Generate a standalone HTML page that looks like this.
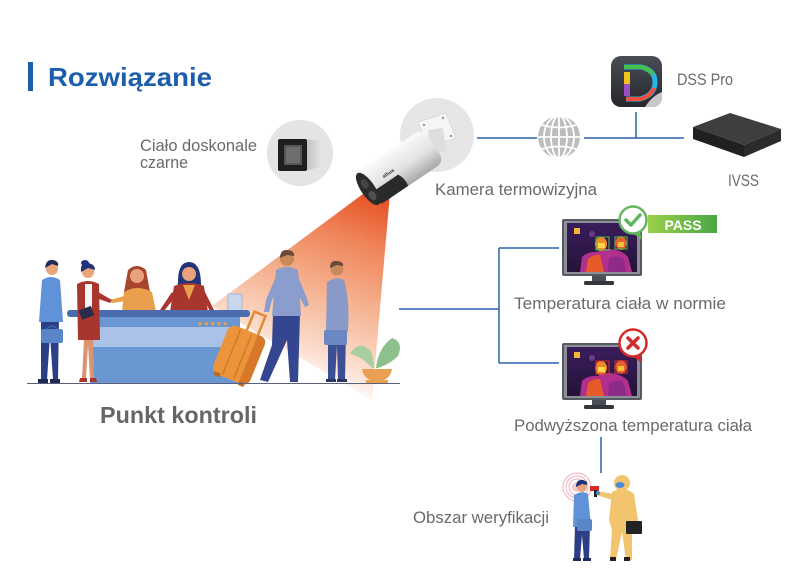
<!DOCTYPE html>
<html><head><meta charset="utf-8"><style>
html,body{margin:0;padding:0;background:#fff;width:800px;height:575px;overflow:hidden}
svg{display:block}
text{font-family:"Liberation Sans",sans-serif}
</style></head><body>
<svg width="800" height="575" viewBox="0 0 800 575" xmlns="http://www.w3.org/2000/svg">
<defs>
<linearGradient id="cone" gradientUnits="userSpaceOnUse" x1="378" y1="188" x2="300" y2="400">
<stop offset="0" stop-color="#e4491d"/>
<stop offset="0.25" stop-color="#ef8458"/>
<stop offset="0.55" stop-color="#f6b898"/>
<stop offset="0.8" stop-color="#fce2d5"/>
<stop offset="1" stop-color="#ffffff" stop-opacity="0"/>
</linearGradient>
<linearGradient id="camb" x1="0" y1="0" x2="0" y2="1">
<stop offset="0" stop-color="#fafafa"/><stop offset="0.55" stop-color="#e2e2e2"/><stop offset="1" stop-color="#a8a8a8"/>
</linearGradient>
<linearGradient id="dss" x1="0" y1="0" x2="0" y2="1">
<stop offset="0" stop-color="#4a4d55"/><stop offset="1" stop-color="#25272c"/>
</linearGradient>
<linearGradient id="pass" x1="0" y1="0" x2="1" y2="0">
<stop offset="0" stop-color="#9bd04a"/><stop offset="1" stop-color="#48a845"/>
</linearGradient>
<linearGradient id="scr" x1="0" y1="0" x2="0" y2="1">
<stop offset="0" stop-color="#3a1d5c"/><stop offset="1" stop-color="#241338"/>
</linearGradient>
<linearGradient id="bbody" x1="0" y1="0" x2="1" y2="0">
<stop offset="0" stop-color="#bdbdbd"/><stop offset="1" stop-color="#e8e8e8"/>
</linearGradient>
<g id="thermal">
<rect x="0" y="0" width="80" height="57" rx="2" fill="#555a60"/>
<rect x="2" y="2" width="76" height="53" fill="#8c9096"/>
<rect x="5" y="4" width="70" height="49" fill="url(#scr)"/>
<rect x="12" y="9" width="6" height="6" fill="#f4b63a"/>
<path d="M18 53 L20 38 Q26 32 36 33 L38 30 L48 30 Q60 31 66 38 L70 53 Z" fill="#b12f8d"/>
<path d="M24 53 L26 40 Q32 35 38 36 L42 53 Z" fill="#e85a2a"/>
<path d="M46 53 L47 40 Q55 35 62 40 L64 53 Z" fill="#8e2a8a"/>
<ellipse cx="39" cy="25" rx="6" ry="7" fill="#f08a2a"/>
<rect x="36" y="24" width="7" height="5" fill="#ffd34a"/>
<ellipse cx="59" cy="24" rx="5.5" ry="7" fill="#e8602e"/>
<rect x="56" y="23" width="6" height="5" fill="#f6c03c"/>
<circle cx="30" cy="15" r="3" fill="#6a3a8a"/>
</g>
<g id="stand">
<rect x="30" y="57" width="14" height="6" fill="#4a4e55"/>
<rect x="22" y="62" width="30" height="4" rx="1.5" fill="#33363c"/>
</g>
</defs>

<!-- Title -->
<rect x="28" y="62" width="5" height="29" fill="#1c5eab"/>
<text x="48" y="86" font-size="26" font-weight="bold" fill="#1c5eab" textLength="164" lengthAdjust="spacingAndGlyphs">Rozwiązanie</text>

<!-- Black body -->
<text x="140" y="151" font-size="17" fill="#6a6a6a" textLength="117" lengthAdjust="spacingAndGlyphs">Ciało doskonale</text>
<text x="140" y="168" font-size="17" fill="#6a6a6a" textLength="48" lengthAdjust="spacingAndGlyphs">czarne</text>
<circle cx="300" cy="153" r="33" fill="#e4e4e4"/>
<path d="M305 139 L323 141 L323 166 L305 171 Z" fill="url(#bbody)"/>
<rect x="278" y="139" width="29" height="32" rx="2" fill="#1e1e1e"/>
<rect x="284" y="145" width="18" height="20" fill="#555"/>
<rect x="286" y="147" width="14" height="16" fill="#6e6e6e"/>

<!-- Camera circle -->
<circle cx="437" cy="135" r="37" fill="#e6e6e6"/>

<!-- Cone -->
<polygon points="371,188 390,193 372,400 212,306" fill="url(#cone)"/>

<!-- Camera -->
<polygon points="418,122 446,113 456,138 428,147" fill="#f5f5f5" stroke="#d6d6d6" stroke-width="0.8"/>
<circle cx="424" cy="125" r="1.2" fill="#999"/><circle cx="443" cy="118" r="1.2" fill="#999"/>
<circle cx="451" cy="136" r="1.2" fill="#999"/><circle cx="431" cy="142" r="1.2" fill="#999"/>
<path d="M428 130 L443 128 L446 150 L430 156 Z" fill="#dedede"/>
<g transform="translate(402,166) rotate(-34)">
<rect x="-42" y="-20" width="80" height="40" rx="9" fill="url(#camb)"/>
<path d="M-42 5 L-8 5 Q-4 12 -6 20 L-34 20 Q-42 20 -42 12 Z" fill="#2a2a2a"/>
<ellipse cx="-41" cy="0" rx="7" ry="19" fill="#2b2b2b"/>
<ellipse cx="-41" cy="-6" rx="3.5" ry="5" fill="#454545"/>
<ellipse cx="-41" cy="8" rx="3.5" ry="5" fill="#505050"/>
<text x="-22" y="0" font-size="5" font-weight="bold" fill="#333">alhua</text>
</g>

<!-- Network -->
<g stroke="#2a62ad" stroke-width="1.5" fill="none">
<line x1="477" y1="138" x2="537" y2="138"/>
<line x1="584" y1="138" x2="684" y2="138"/>
<line x1="636" y1="112" x2="636" y2="138"/>
<line x1="399" y1="309" x2="499" y2="309"/>
<line x1="499" y1="248" x2="499" y2="363"/>
<line x1="499" y1="248" x2="559" y2="248"/>
<line x1="499" y1="363" x2="559" y2="363"/>
<line x1="601" y1="437" x2="601" y2="473"/>
</g>

<!-- Globe -->
<circle cx="559" cy="137" r="21" fill="#bdbdbd"/>
<g stroke="#fff" stroke-width="1.8" fill="none">
<ellipse cx="559" cy="137" rx="8" ry="21"/>
<ellipse cx="559" cy="137" rx="15" ry="21"/>
<line x1="559" y1="116" x2="559" y2="158"/>
<line x1="538" y1="137" x2="580" y2="137"/>
<path d="M542 125 Q559 130 576 125"/>
<path d="M542 149 Q559 144 576 149"/>
</g>

<!-- DSS Pro -->
<rect x="611" y="56" width="51" height="51" rx="10" fill="url(#dss)"/>
<path d="M645 107 Q652 96 662 92 L662 97 Q662 107 652 107 Z" fill="#c8c8c8"/>
<path d="M624 67 L641 67 Q655 70 655 82 Q655 95 640 99 L626 99" fill="none" stroke="#2ab3e6" stroke-width="5"/>
<path d="M626 99 L640 99 Q650 97 654 88" fill="none" stroke="#f0503c" stroke-width="4"/>
<path d="M624 67 L641 67 Q650 69 653 75" fill="none" stroke="#46c04a" stroke-width="4"/>
<rect x="624" y="72" width="6" height="24" fill="#f4c21e"/>
<rect x="624" y="84" width="6" height="12" fill="#9a4ec8"/>
<text x="677" y="85" font-size="17" fill="#6a6a6a" textLength="56" lengthAdjust="spacingAndGlyphs">DSS Pro</text>

<!-- IVSS -->
<polygon points="693,127 730,113 781,129 744,145" fill="#3d3e40"/>
<polygon points="693,127 744,145 744,157 693,139" fill="#1f2022"/>
<polygon points="744,145 781,129 781,141 744,157" fill="#2b2c2e"/>
<text x="728" y="186" font-size="17" fill="#6a6a6a" textLength="31" lengthAdjust="spacingAndGlyphs">IVSS</text>

<text x="435" y="195" font-size="17" fill="#6a6a6a" textLength="162" lengthAdjust="spacingAndGlyphs">Kamera termowizyjna</text>

<!-- Reception scene -->
<!-- receptionist 3 -->
<path d="M128 270 Q137 262 146 270 L150 292 L124 292 Z" fill="#a8452f"/>
<circle cx="137" cy="276" r="7" fill="#eaa27c"/>
<path d="M122 312 L124 292 Q137 284 152 292 L156 312 Z" fill="#e9a04c"/>
<path d="M124 296 L110 300 L112 303 L126 301 Z" fill="#e9a04c"/>
<!-- receptionist 4 -->
<path d="M178 282 Q178 262 189 262 Q201 262 201 285 L206 300 L176 300 Z" fill="#23357a"/>
<circle cx="189" cy="274" r="7" fill="#eaa27c"/>
<path d="M170 312 L174 286 Q189 280 204 286 L208 312 Z" fill="#a9352f"/>
<path d="M183 285 L189 300 L195 285 Z" fill="#e9a04c"/>
<path d="M172 292 L160 310 L164 311 L176 296 Z" fill="#a9352f"/>
<path d="M205 292 L214 310 L210 311 L202 296 Z" fill="#a9352f"/>
<!-- paper -->
<rect x="228" y="294" width="14" height="18" fill="#c8d7ef" stroke="#8aa2cc" stroke-width="0.6"/>
<!-- desk -->
<rect x="90" y="317" width="150" height="10" fill="#6a96d1"/>
<rect x="90" y="327" width="150" height="20" fill="#aac2e8"/>
<rect x="90" y="347" width="150" height="36" fill="#6a96d1"/>
<rect x="67" y="310" width="183" height="7" rx="3" fill="#4b6db0"/>
<g fill="#f0a040" font-size="7"><text x="197" y="326">★★★★★</text></g>
<!-- man 1 -->
<path d="M41 318 L59 318 L58 380 L53 380 L50 335 L47 380 L41 380 Z" fill="#2c3f86"/>
<rect x="38" y="379" width="10" height="4" fill="#1f2a55"/><rect x="50" y="379" width="10" height="4" fill="#1f2a55"/>
<path d="M42 280 Q51 274 60 280 L63 322 L39 322 Z" fill="#5f92d8"/>
<rect x="41" y="329" width="22" height="14" rx="2" fill="#5a85c9"/>
<path d="M47 329 Q52 323 57 329" fill="none" stroke="#3c64a8" stroke-width="1.5"/>
<circle cx="52" cy="269" r="6" fill="#e8a47a"/>
<path d="M45 268 Q46 259 53 260 Q59 261 58 266 L52 264 Z" fill="#1f2d5a"/>
<!-- woman 2 -->
<path d="M84 340 L82 378 L86 378 L88 345 L90 378 L94 378 L93 340 Z" fill="#d99470"/>
<path d="M80 378 L87 378 L87 382 L79 382 Z" fill="#a9352f"/><path d="M90 378 L96 378 L97 382 L90 382 Z" fill="#a9352f"/>
<path d="M77 284 Q88 278 99 284 L100 340 L78 340 Z" fill="#a9352f"/>
<rect x="85" y="284" width="7" height="24" fill="#f4f4f4"/>
<path d="M98 292 L112 300 L110 303 L96 298 Z" fill="#a9352f"/>
<rect x="80" y="308" width="13" height="10" fill="#2a2d4a" transform="rotate(-20 86 313)"/>
<circle cx="88" cy="272" r="6" fill="#e8a47a"/>
<path d="M81 272 Q80 262 88 263 Q95 264 95 270 L88 268 Z" fill="#23357a"/>
<ellipse cx="85" cy="263" rx="4" ry="3" fill="#23357a"/>
<!-- suitcase -->
<g transform="translate(239,355) rotate(22)">
<path d="M-2 -26 L-2 -46 L10 -46 L10 -26" fill="none" stroke="#e08a32" stroke-width="2.5"/>
<rect x="-20" y="-26" width="40" height="52" rx="8" fill="#eb943c"/>
<path d="M10 -26 L12 -26 Q20 -26 20 -18 L20 18 Q20 26 12 26 L10 26 Z" fill="#d8782a"/>
<line x1="-8" y1="-24" x2="-8" y2="24" stroke="#d27a28" stroke-width="1.5"/>
<line x1="4" y1="-24" x2="4" y2="24" stroke="#d27a28" stroke-width="1.5"/>
<rect x="-16" y="24" width="6" height="4" fill="#c06a20"/><rect x="10" y="24" width="6" height="4" fill="#c06a20"/>
</g>
<!-- walking man -->
<path d="M273 314 L300 314 L298 382 L290 382 L287 340 L268 382 L260 380 L272 345 Z" fill="#33468f"/>
<path d="M276 270 Q287 264 298 270 L301 316 L272 316 Z" fill="#8b9dcc"/>
<path d="M277 274 L266 300 L264 312 L269 312 L272 300 L282 280 Z" fill="#8b9dcc"/>
<path d="M297 274 L306 296 L309 305 L305 307 L299 296 Z" fill="#8b9dcc"/>
<circle cx="287" cy="259" r="7" fill="#c98a5a"/>
<path d="M280 258 Q280 249 288 250 Q295 251 294 256 L287 255 Z" fill="#6b4a3a"/>
<!-- standing man -->
<path d="M328 330 L346 330 L345 380 L338 380 L337 345 L335 380 L328 380 Z" fill="#3c4e94"/>
<rect x="326" y="379" width="10" height="3" fill="#2a3566"/><rect x="337" y="379" width="10" height="3" fill="#2a3566"/>
<path d="M327 282 Q336 276 344 280 Q350 300 348 332 L326 332 Z" fill="#8a9ac8"/>
<rect x="324" y="330" width="23" height="15" rx="2" fill="#6c88c4"/>
<circle cx="337" cy="269" r="6.5" fill="#c98a5a"/>
<path d="M330 268 Q330 260 337 261 Q344 262 343 266 L337 265 Z" fill="#6b4a3a"/>
<!-- plant -->
<path d="M372 368 Q360 355 350 354 Q358 340 370 350 Q374 358 374 368 Z" fill="#a9cf9f"/>
<path d="M376 368 Q378 348 392 338 Q404 342 398 356 Q390 364 378 368 Z" fill="#8dc08a"/>
<path d="M362 369 L392 369 Q390 381 377 381 Q364 381 362 369 Z" fill="#e8a052"/>
<rect x="366" y="380" width="22" height="3" fill="#e8a052"/>
<!-- floor -->
<line x1="27" y1="383.5" x2="400" y2="383.5" stroke="#5a6080" stroke-width="1"/>
<text x="100" y="423" font-size="23" font-weight="bold" fill="#666" textLength="157" lengthAdjust="spacingAndGlyphs">Punkt kontroli</text>

<!-- Monitor 1 -->
<g transform="translate(562,219)">
<use href="#thermal"/>
<rect x="34" y="18" width="13" height="13" fill="none" stroke="#4bc04a" stroke-width="1"/>
<rect x="53" y="18" width="12" height="12" fill="none" stroke="#4bc04a" stroke-width="1"/>
<use href="#stand"/>
</g>
<rect x="648" y="215" width="69" height="18" fill="url(#pass)"/>
<text x="683" y="230" font-size="14" font-weight="bold" fill="#fff" text-anchor="middle">PASS</text>
<path d="M640 232 L642 240 L634 234 Z" fill="#63b660"/>
<circle cx="633" cy="220" r="13.5" fill="#fff" stroke="#63b660" stroke-width="2.5"/>
<path d="M626 220 L631 225 L640 215" fill="none" stroke="#5cb85c" stroke-width="3.5" stroke-linecap="round" stroke-linejoin="round"/>
<text x="514" y="309" font-size="17" fill="#6a6a6a" textLength="212" lengthAdjust="spacingAndGlyphs">Temperatura ciała w normie</text>

<!-- Monitor 2 -->
<g transform="translate(562,343)">
<use href="#thermal"/>
<rect x="34" y="18" width="13" height="13" fill="none" stroke="#d83030" stroke-width="1"/>
<rect x="53" y="18" width="12" height="12" fill="none" stroke="#d83030" stroke-width="1"/>
<use href="#stand"/>
</g>
<path d="M640 355 L642 363 L634 357 Z" fill="#d42a2a"/>
<circle cx="633" cy="343" r="13.5" fill="#fff" stroke="#d42a2a" stroke-width="2.5"/>
<path d="M628 338 L638 348 M638 338 L628 348" stroke="#d42a2a" stroke-width="3.5" stroke-linecap="round"/>
<text x="514" y="431" font-size="17" fill="#6a6a6a" textLength="238" lengthAdjust="spacingAndGlyphs">Podwyższona temperatura ciała</text>

<!-- Verification -->
<text x="413" y="523" font-size="17" fill="#6a6a6a" textLength="136" lengthAdjust="spacingAndGlyphs">Obszar weryfikacji</text>
<g fill="none" stroke="#f2b0bc" stroke-width="1">
<circle cx="577" cy="487" r="14"/><circle cx="577" cy="487" r="11"/><circle cx="577" cy="487" r="8"/>
</g>
<circle cx="577" cy="487" r="5" fill="#f7c8d0"/>
<!-- man -->
<path d="M575 525 L590 525 L589 559 L584 559 L582 535 L580 559 L574 559 Z" fill="#2c3f86"/>
<path d="M574 495 Q582 490 588 494 L591 527 L573 527 Z" fill="#5f92d8"/>
<rect x="577" y="519" width="15" height="12" rx="2" fill="#5a85c9"/>
<circle cx="582" cy="487" r="5" fill="#e8a47a"/>
<path d="M576 487 Q576 479 583 480 Q588 481 587 485 L582 484 Z" fill="#23357a"/>
<rect x="573" y="558" width="8" height="3" fill="#1f2a55"/><rect x="583" y="558" width="8" height="3" fill="#1f2a55"/>
<!-- hazmat -->
<path d="M612 492 Q624 485 634 494 L638 520 L632 530 L632 560 L626 560 L622 532 L616 560 L610 560 L612 530 L609 520 Z" fill="#f2c46d"/>
<circle cx="622" cy="483" r="8" fill="#f2c46d"/>
<ellipse cx="620" cy="485" rx="4.5" ry="3" fill="#4a8ad8"/>
<path d="M614 494 L596 491 L596 495 L613 500 Z" fill="#f2c46d"/>
<rect x="590" y="486" width="9" height="5" fill="#d02a2a"/>
<rect x="594" y="490" width="3" height="7" fill="#222"/>
<circle cx="598" cy="493" r="2" fill="#4a8ad8"/>
<rect x="626" y="521" width="16" height="13" rx="1" fill="#222"/>
<rect x="624" y="557" width="6" height="4" fill="#222"/><rect x="610" y="557" width="6" height="4" fill="#222"/>
</svg>
</body></html>
